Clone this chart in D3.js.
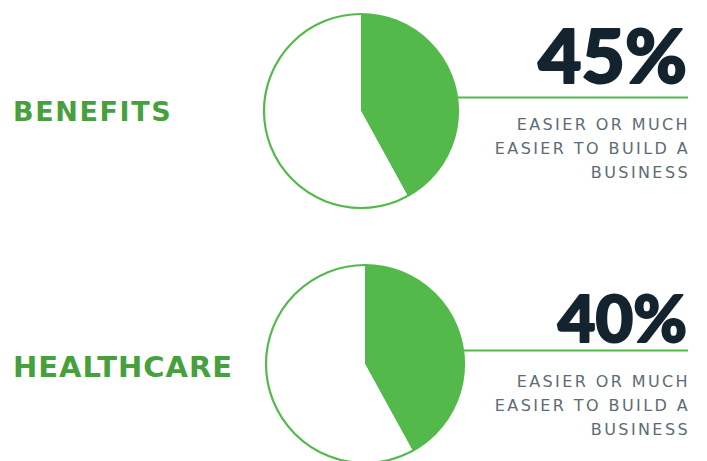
<!DOCTYPE html>
<html>
<head>
<meta charset="utf-8">
<script src="https://cdn.jsdelivr.net/npm/d3@7"></script>
<style>
  body { margin: 0; background: #fff; }
  svg { display: block; }
</style>
</head>
<body>
<svg width="707" height="461"></svg>
<script>
// values
var categories = ["BENEFITS", "HEALTHCARE"];
var percents = [45, 40];
// wedge size as drawn (both wedges look about the same)
var pieShares = [42, 42];
var subtitleLines = ["EASIER OR MUCH", "EASIER TO BUILD A", "BUSINESS"];

var width = 707, height = 461;
var green = "#53b94a", darkGreen = "#479f3e", navy = "#13242f", grey = "#5e6b74";

// layout for each block
var layout = [
  {cx: 361, cy: 111, r: 97, labelY: 121, labelSize: 27, labelSp: 1.6, pctY: 83, pctSize: 75, subY: 130},
  {cx: 365, cy: 364, r: 99, labelY: 377, labelSize: 29, labelSp: 1, pctY: 342, pctSize: 65, subY: 387}
];

var svg = d3.select("svg");
var pie = d3.pie().sort(null).value(function(d) { return d; });
var right = 688;

categories.forEach(function(cat, i) {
  var L = layout[i];
  var g = svg.append("g");

  var arc = d3.arc().innerRadius(0).outerRadius(L.r);
  g.append("g")
    .attr("transform", "translate(" + L.cx + "," + L.cy + ")")
    .selectAll("path")
    .data(pie([pieShares[i], 100 - pieShares[i]]))
    .enter().append("path")
    .attr("d", arc)
    .attr("fill", function(d, j) { return j == 0 ? green : "#fff"; });

  g.append("circle")
    .attr("cx", L.cx).attr("cy", L.cy).attr("r", L.r)
    .attr("fill", "none")
    .attr("stroke", green)
    .attr("stroke-width", 2.2);

  // connector line
  g.append("line")
    .attr("x1", L.cx + L.r).attr("x2", right)
    .attr("y1", L.cy - 13.5).attr("y2", L.cy - 13.5)
    .attr("stroke", green)
    .attr("stroke-width", 2.2);

  g.append("text")
    .attr("x", 13).attr("y", L.labelY)
    .attr("font-family", "DejaVu Sans, sans-serif")
    .attr("font-weight", 700)
    .attr("font-size", L.labelSize)
    .attr("letter-spacing", L.labelSp)
    .attr("fill", darkGreen)
    .text(cat);

  // stroke thickens the bold face towards a black weight
  g.append("text")
    .attr("x", right - 1).attr("y", L.pctY - 0.5)
    .attr("text-anchor", "end")
    .attr("font-family", "Lato, sans-serif")
    .attr("font-weight", 900)
    .attr("font-size", L.pctSize)
    .attr("fill", navy)
    .attr("stroke", navy)
    .attr("stroke-width", 2)
    .attr("stroke-linejoin", "round")
    .text(percents[i] + "%");

  g.append("g").selectAll("text")
    .data(subtitleLines)
    .enter().append("text")
    .attr("x", right + 2)
    .attr("y", function(d, k) { return L.subY + k * 24; })
    .attr("text-anchor", "end")
    .attr("font-family", "DejaVu Sans, sans-serif")
    .attr("font-size", 16)
    .attr("letter-spacing", 2.4)
    .attr("fill", grey)
    .text(function(d) { return d; });
});
</script>
</body>
</html>
